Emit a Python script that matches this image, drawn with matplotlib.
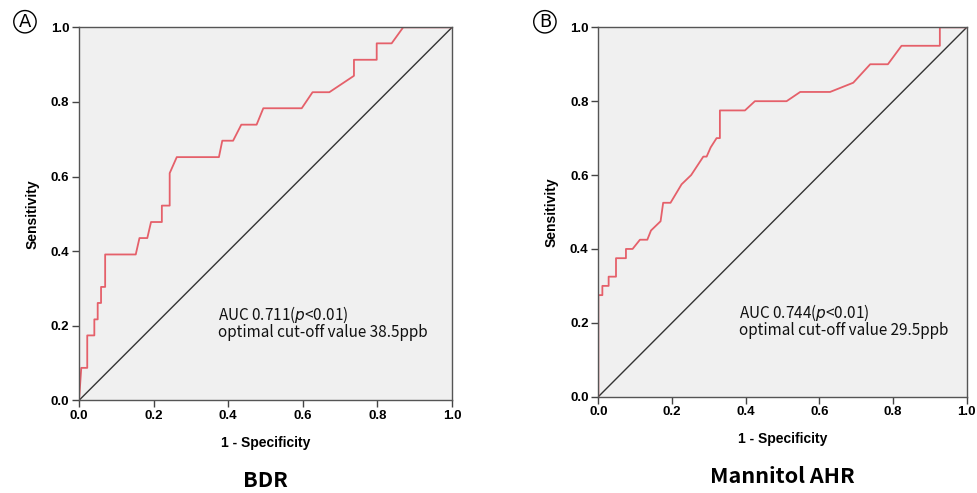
import matplotlib
matplotlib.use("Agg")
import matplotlib.pyplot as plt

# ROC curve vertices (1 - specificity, sensitivity)
bdr_fpr = [0.0, 0.006, 0.022, 0.022, 0.041, 0.041, 0.050, 0.050, 0.059, 0.059, 0.070, 0.070,
           0.152, 0.162, 0.183, 0.193, 0.222, 0.222, 0.243, 0.243, 0.262, 0.375, 0.384, 0.413,
           0.435, 0.476, 0.494, 0.597, 0.626, 0.671, 0.737, 0.737, 0.798, 0.798, 0.838, 0.869, 1.0]
bdr_tpr = [0.0, 0.087, 0.087, 0.174, 0.174, 0.217, 0.217, 0.261, 0.261, 0.304, 0.304, 0.391,
           0.391, 0.435, 0.435, 0.478, 0.478, 0.522, 0.522, 0.609, 0.652, 0.652, 0.696, 0.696,
           0.739, 0.739, 0.783, 0.783, 0.826, 0.826, 0.870, 0.913, 0.913, 0.957, 0.957, 1.0, 1.0]

ahr_fpr = [0.0, 0.0, 0.011, 0.011, 0.028, 0.028, 0.048, 0.048, 0.075, 0.075, 0.093, 0.113,
           0.133, 0.143, 0.169, 0.176, 0.196, 0.211, 0.226, 0.252, 0.285, 0.294, 0.305, 0.321,
           0.330, 0.330, 0.398, 0.425, 0.511, 0.548, 0.629, 0.692, 0.738, 0.786, 0.823, 0.927,
           0.927, 1.0]
ahr_tpr = [0.0, 0.275, 0.275, 0.300, 0.300, 0.325, 0.325, 0.375, 0.375, 0.400, 0.400, 0.425,
           0.425, 0.450, 0.475, 0.525, 0.525, 0.550, 0.575, 0.600, 0.650, 0.650, 0.675, 0.700,
           0.700, 0.775, 0.775, 0.800, 0.800, 0.825, 0.825, 0.850, 0.900, 0.900, 0.950, 0.950,
           1.0, 1.0]

ticks = [0.0, 0.2, 0.4, 0.6, 0.8, 1.0]
tick_labels = ["0.0", "0.2", "0.4", "0.6", "0.8", "1.0"]

panels = [
    ("A", "BDR", bdr_fpr, bdr_tpr, "0.711", "38.5", (0.0809, 0.188, 0.3818, 0.7566), (0.373, 0.229, 0.183)),
    ("B", "Mannitol AHR", ahr_fpr, ahr_tpr, "0.744", "29.5", (0.6124, 0.1953, 0.3771, 0.7493), (0.383, 0.226, 0.180)),
]

plt.rcParams["mathtext.fontset"] = "custom"
plt.rcParams["mathtext.it"] = "DejaVu Sans:italic"

fig = plt.figure(figsize=(9.77, 4.93), dpi=100)
label_font = ["Noto Sans CJK KR", "DejaVu Sans"]

for letter, title, fpr, tpr, auc, cutoff, rect, txt in panels:
    ax = fig.add_axes(rect)
    ax.set_facecolor("#f0f0f0")
    ax.plot([0, 1], [0, 1], color="#333333", lw=1.0)
    ax.plot(fpr, tpr, color="#e5606a", lw=1.3)
    ax.set_xlim(0, 1)
    ax.set_ylim(0, 1)
    ax.set_xticks(ticks)
    ax.set_yticks(ticks)
    ax.set_xticklabels(tick_labels, fontfamily="Liberation Sans", fontweight="bold", fontsize=9.5)
    ax.set_yticklabels(tick_labels, fontfamily="Liberation Sans", fontweight="bold", fontsize=9.5)
    ax.tick_params(direction="out", length=5, width=1, color="#444444", pad=2)
    for s in ax.spines.values():
        s.set_color("#555555")
        s.set_linewidth(1.0)
    ax.set_xlabel("1 - Specificity", fontfamily="Liberation Sans", fontweight="bold", fontsize=10, labelpad=10)
    ax.set_ylabel("Sensitivity", fontfamily="Liberation Sans", fontweight="bold", fontsize=10, labelpad=8)

    x0, y1, y2 = txt
    ax.text(x0, y1, "AUC " + auc + "($p$<0.01)", fontfamily=label_font, fontsize=11,
            fontweight="medium", va="center", ha="left", color="#111111")
    ax.text(x0, y2, "optimal cut-off value " + cutoff + "ppb", fontfamily=label_font, fontsize=11,
            fontweight="medium", va="center", ha="left", color="#111111")

    # panel title under the axes
    ax.text(0.5, -0.215, title, transform=ax.transAxes, fontfamily=label_font, fontweight="bold",
            fontsize=15.5, ha="center", va="center")

    # circled panel letter
    ax.text(-0.145, 1.015, letter, transform=ax.transAxes, fontfamily="DejaVu Sans", fontsize=13,
            ha="center", va="center",
            bbox=dict(boxstyle="circle,pad=0.12", fc="white", ec="black", lw=1.0))

fig.savefig("out.png", dpi=100)
